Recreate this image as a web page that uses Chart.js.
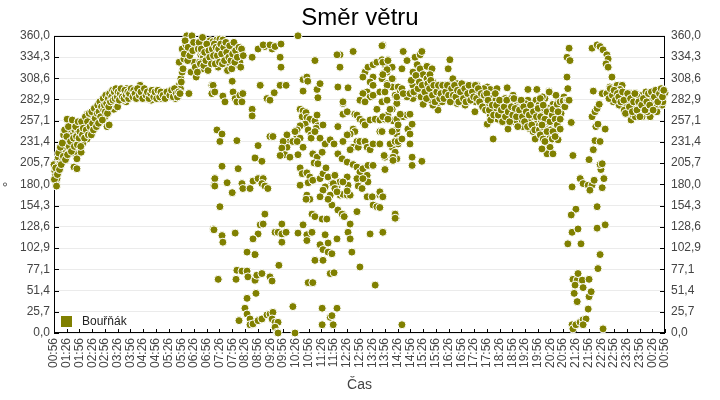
<!DOCTYPE html>
<html>
<head>
<meta charset="utf-8">
<script src="https://cdn.jsdelivr.net/npm/chart.js@4.4.1/dist/chart.umd.min.js"></script>
<style>
html, body { margin: 0; padding: 0; background: #fff; }
</style>
</head>
<body>
<canvas id="smerChart" width="720" height="400"></canvas>
<script>
// popisky casove osy (po 30 minutach od 00:56)
var casy = ['00:56','01:26','01:56','02:26','02:56','03:26','03:56','04:26','04:56','05:26','05:56','06:26',
    '06:56','07:26','07:56','08:26','08:56','09:26','09:56','10:26','10:56','11:26','11:56','12:26',
    '12:56','13:26','13:56','14:26','14:56','15:26','15:56','16:26','16:56','17:26','17:56','18:26',
    '18:56','19:26','19:56','20:26','20:56','21:26','21:56','22:26','22:56','23:26','23:56','00:26','00:56'];

// hodnoty na ose Y (stupne)
var stupne = [0, 25.714, 51.429, 77.143, 102.857, 128.571, 154.286, 180, 205.714, 231.429, 257.143, 282.857, 308.571, 334.286, 360];

// mereni: [minuty od 00:56, smer vetru ve stupnich]
var rano = [
    [5,183],[7,187],[0,204],[12,207],[7,195],[16,211],[19,216],[24,228],[28,235],[31,223],[35,232],[40,244],[31,259],[42,252],
    [47,223],[52,216],[47,201],[54,199],[54,211],[64,219],[66,232],[71,244],[64,247],[75,252],[78,235],[82,244],[87,259],[78,265],
    [94,256],[99,268],[101,271],[111,259],[118,271],[125,250],[130,252],[123,277],[134,276],[137,288],[141,271],[148,280],[158,284],
    [165,292],[170,280],[177,295],[189,292],[196,290],[203,300],[207,288],[219,284],[229,282],[236,290],[243,288],[252,284],[264,288],
    [276,290],[283,290],[290,295],[295,300],[299,308],[302,316],[295,328],[306,332],[302,344],[311,349],[313,360],[325,360],[318,341],
    [323,316],[318,290],[330,328],[335,310],[337,349],[346,337],[354,320],[361,332],[370,349],[372,300],[372,290],[377,179],[375,126],
    [2,196],[3,190],[9,200],[10,213],[14,205],[18,222],[21,210],[23,240],[26,218],[29,226],[33,244],[37,218],[38,238],[44,228],
    [45,240],[49,246],[50,232],[56,242],[58,228],[60,250],[62,238],[68,230],[70,254],[73,240],[80,248],[84,258],[86,242],[90,250],
    [92,264],[96,254],[104,262],[107,258],[113,266],[115,280],[120,262],[127,272],[132,284],[135,276],[143,280],[145,290],[150,274],
    [153,286],[160,293],[163,282],[168,290],[172,296],[181,288],[184,292],[192,286],[199,292],[211,290],[214,286],[222,284],[226,292],
    [233,287],[240,285],[247,290],[255,286],[259,292],[268,286],[271,293],[279,289],[286,284],[292,293],[298,296],
    [300,304],[304,320],[307,338],[309,354],[315,330],[316,346],[320,336],[327,342],[329,352],[333,322],[340,344],[343,328],
    [348,340],[352,334],[357,346],[364,340],[366,326],[368,354],
    [1,186],[4,200],[6,178],[8,192],[11,218],[13,198],[15,225],[17,204],[20,230],[22,214],[25,246],[27,210],[30,238],[32,216],
    [34,250],[36,226],[39,232],[41,220],[43,258],[46,236],[48,226],[51,250],[53,238],[55,228],[57,256],[59,236],[61,244],[63,226],
    [65,256],[67,240],[69,248],[72,236],[74,262],[76,246],[79,256],[81,240],[83,266],[85,250],[88,240],[89,268],[91,254],[93,246],
    [95,272],[97,260],[100,250],[102,266],[103,276],[105,254],[106,268],[108,280],[110,262],[112,274],[114,258],[116,284],[117,270],
    [119,276],[121,268],[122,288],[124,278],[126,266],[128,284],[129,274],[131,290],[133,280],[136,286],[138,294],[139,282],[142,292],
    [144,284],[146,296],[149,286],[151,292],[154,282],[156,290],[158,296],[161,286],[165,284],[167,294],[170,288],[174,292],[176,284],
    [178,290],[182,296],[186,286],[188,294],[191,290],[194,284],[197,296],[201,288],[205,292],[209,284],[213,296],[217,288],[220,292],
    [224,284],[228,290],[231,294],[235,286],[238,292],[242,284],[245,294],[249,286],[252,292],[257,288],[262,284],[266,292],[273,288],
    [277,294],[281,286],[284,296],[288,290],[291,286],[294,292],[297,290]
];

var dopoledne = [
    [344,353],[351,341],[349,328],[351,320],[361,337],[368,349],[375,353],[384,355],[391,356],[398,355],[379,341],[387,322],[403,337],
    [408,319],[410,328],[420,341],[422,332],[431,325],[434,341],[438,328],[443,337],[422,347],[415,344],[467,334],[481,344],[497,347],
    [514,344],[493,349],[509,349],[521,347],[535,350],[533,334],[535,322],[575,360],
    [338,316],[342,352],[345,326],[347,344],[350,358],[353,324],[355,340],[358,330],[360,350],[363,318],[365,342],[367,334],[371,326],
    [373,344],[376,336],[378,350],[380,326],[382,346],[385,336],[388,344],[390,328],[393,350],[395,338],[397,326],[400,346],[402,330],
    [405,352],[407,340],[409,318],[412,334],[414,348],[417,330],[419,320],[421,338],[424,352],[426,328],[428,342],[432,334],[436,346],
    [440,322],[442,344],[446,336],
    [375,300],[379,292],[420,305],[398,287],[403,280],[422,292],[427,284],[431,280],[438,288],[445,290],[443,280],[486,300],[502,284],
    [509,282],[519,291],[533,300],[547,300],
    [467,271],[467,263],[384,246],[396,241],[391,232],[431,233],[481,227],[509,238],[516,238],[474,212],[490,208],[396,202],[434,199],
    [379,187],[379,178],[408,182],[420,170],[443,181],[445,175],[462,175],[469,184],[481,187],[493,187],[490,181],[497,178],[504,175],
    [391,153],[497,144],[486,131],[493,132],[481,120],[469,114],[377,125],[396,118],[398,110],[427,121],[521,122],[528,122],[537,132],
    [537,120],[537,110],[547,122],[455,98],[474,95],[530,82],[431,76],[443,75],[455,75],[457,68],[474,64],[478,70],[490,72],[509,68],
    [514,63],[387,65],[429,65],[476,48],[455,42],[450,30],[455,23],[462,17],[462,10],[469,11],[481,15],[490,17],[502,22],[509,23],
    [516,25],[514,17],[521,13],[528,13],[521,7],[526,1],[528,0],[436,15],[563,32],[568,0]
];

var poledne = [
    [580,271],[587,269],[585,262],[594,267],[596,261],[603,259],[615,257],[620,264],[622,251],[592,253],[580,251],[599,246],[606,240],
    [573,246],[573,238],[580,236],[568,244],[556,232],[549,225],[549,240],[563,232],[573,232],[540,232],[537,224],[544,216],[533,215],
    [556,213],[575,216],[587,225],[606,236],[618,248],[610,217],[620,213],[613,206],[622,205],[632,219],[639,229],[651,234],[660,229],
    [669,250],[681,278],[681,265],[691,268],[693,297],[674,337],[674,322],[705,341],[615,330],[587,307],[596,310],[587,293],[620,295],
    [622,285],[627,302],[598,305],[634,252],[627,236],[615,244],
    [580,200],[585,193],[596,194],[603,189],[599,182],[580,179],[610,185],[627,187],[634,193],[641,200],[646,189],[655,181],[662,191],
    [667,177],[674,183],[639,177],[634,173],[596,167],[603,162],[594,162],[627,165],[651,167],[655,155],[674,167],[681,168],[691,167],
    [698,167],[669,149],[681,143],[608,144],[615,141],[632,138],[643,138],[587,131],[596,119],[608,122],[575,121],[596,112],[639,119],
    [646,109],[627,107],[634,101],[646,98],[655,96],[667,114],[693,122],[698,114],[702,98],[615,88],[634,88],[721,80],[599,61],[610,61],
    [651,72],[660,73],[757,58],[632,30],[667,30],[651,19],[655,21],[632,10],[658,10],[726,198],[728,199],[721,191],[717,183],[693,179],
    [691,172],[738,165],[750,165],[752,155],[761,153],[768,167],[775,165],[714,147],[745,120],[775,122],[804,144],[806,139],[698,132],
    [679,144],[684,141],
    [669,298],[681,280],[709,265],[714,264],[721,259],[728,256],[733,252],[745,258],[757,259],[768,258],[705,247],[709,244],[698,241],
    [691,240],[681,232],[714,232],[705,225],[698,222],[717,225],[721,232],[733,232],[738,225],[745,222],[752,229],[768,244],[780,213],
    [799,211],[797,225],[804,232],[808,241],[816,235],[669,217],[679,211],[691,207],[705,204],[714,201],[721,195],[728,199],[738,191],
    [740,183],[714,187],[717,178],[728,187],[726,175],[740,203],[752,203],[780,198],[691,189],[681,183],[658,181],[662,175],[667,171],
    [646,162],[733,316],[740,322],[752,325],[761,328],[773,331],[780,325],[787,331],[797,322],[785,316],[775,314],[752,310],[745,304],
    [752,300],[738,292],[728,290],[745,286],[721,282],[733,280],[752,288],[768,292],[773,308],[785,302],[797,298],[804,288],[808,278],
    [797,271],[787,264],[780,259],[773,280],[761,271],[799,308],[811,298],[799,257],[808,247],[811,229],[804,219],[808,211],[775,349],
    [667,337],[728,310],[816,292]
];

var odpoledne = [
    [773,348],[775,328],[787,330],[785,319],[775,313],[797,308],[785,300],[780,292],[785,282],[792,271],[775,262],[787,259],[808,259],
    [808,286],[811,252],[823,262],[832,264],[839,265],[816,265],[773,244],[768,229],[797,244],[792,229],[804,232],[811,232],[820,235],
    [834,247],[839,241],[844,253],[839,229],[778,215],[799,213],[799,209],[780,198],[844,213],[844,203],[867,208],[768,171],[775,165],
    [768,152],[804,144],[804,139],[775,122],[820,10],
    [823,341],[820,320],[832,330],[851,334],[863,337],[867,341],[856,325],[863,320],[846,316],[879,323],[891,320],[870,313],[879,308],
    [886,313],[893,304],[856,304],[846,300],[863,295],[879,295],[886,284],[870,277],[903,277],[905,270],[893,276],[846,284],[832,286],
    [820,296],[823,290],[839,290],[856,290],[910,296],[917,290],[926,292],[933,300],[938,304],[929,320],[933,331],[940,308],[950,302],
    [952,296],[945,290],[957,290],[950,278],[969,276],[964,292],[974,300],[980,295],[988,298],[997,300],[999,292],[992,288],[980,288],
    [1004,284],[1011,288],[1021,298],[1028,295],[1035,288],[1039,284],[1032,280],[1016,276],[992,268],[1009,280],[1021,271],[1028,264],
    [1021,253],[1035,235],[1044,268],[1046,259],[1051,271],[1058,268],[1056,277],[1068,297],[1063,284],[1070,274],[1080,280],[1082,288],
    [1091,277],[1094,270],[1075,264],[1068,258],[1070,247],[1082,256],[1098,262],[1105,268],[1115,270],[1117,282],[1117,295],[1105,250],
    [1122,247],[1129,244],[1134,235],[1127,259],[1138,258],[1146,268],[1153,270],[1162,258],[1150,244],[1157,240],[1164,232],[1162,219],
    [1169,223],[1138,295],[1157,284],[1167,293],[1146,276],[1176,277],[1186,268],[1176,253],[1181,241],[1174,234],[1188,280],[1044,296],
    [872,288],[876,300],[884,292],[889,282],[896,296],[899,288],[907,286],[913,294],[915,280],[921,298],[924,287],[931,284],[936,294],
    [943,282],[948,296],[955,286],[960,298],[962,282],[967,290],[972,286],[977,292],[985,284],[990,296],[994,280],[1001,290],[1006,278],
    [1013,296],[1018,284],[1024,278],[1030,288],[1037,272],[1041,282],[1048,276],[1053,262],[1060,280],[1065,268],[1072,262],[1077,284],
    [1085,270],[1088,258],[1096,282],[1100,272],[1103,258],[1110,278],[1112,264],[1119,256],[1124,272],[1131,262],[1136,282],[1140,250],
    [1143,276],[1148,258],[1151,286],[1155,264],[1160,248],[1165,272],[1171,256],[1178,266],[1183,288],[1190,262],
    [842,306],[848,292],[853,312],[858,296],[861,304],[865,286],[868,300],[874,292],[878,284],[881,302],[885,296],[888,306],[892,288],
    [895,300],[898,280],[902,292],[906,300],[909,284],[912,290],[916,300],[919,284],[923,292],[927,300],[930,288],[934,280],[937,296],
    [941,288],[944,300],[947,286],[951,294],[954,280],[958,292],[961,302],[965,284],[968,296],[971,280],[975,290],[978,300],[982,282],
    [986,292],[989,286],[993,300],[996,284],[1000,296],[1003,280],[1007,290],[1010,274],[1014,288],[1017,270],[1020,290],
    [1023,282],[1026,270],[1029,258],[1033,276],[1036,264],[1040,290],[1043,276],[1047,264],[1050,282],[1054,270],[1057,256],[1061,274],
    [1064,262],[1067,282],[1071,268],[1074,256],[1078,274],[1081,264],[1084,284],[1087,272],[1090,262],[1093,250],[1097,270],[1101,282],
    [1104,262],[1107,274],[1109,256],[1113,268],[1116,250],[1120,264],[1123,276],[1126,252],[1130,268],[1133,246],[1137,262],[1141,272],
    [1144,246],[1147,262],[1152,250],[1156,272],[1159,256],[1163,240],[1166,262],[1170,246],[1173,268],[1177,258],[1180,272],[1184,262],
    [1187,248],[1191,270],[1195,266],[1198,276],[1202,286]
];

var vecer = [
    [1146,284],[1153,276],[1162,268],[1157,259],[1150,252],[1146,240],[1153,235],[1162,244],[1169,256],[1174,264],[1176,271],[1186,277],
    [1193,280],[1200,281],[1204,274],[1209,282],[1167,292],[1181,259],[1188,268],[1186,252],[1193,247],[1176,244],[1174,235],[1169,225],
    [1162,217],[1176,217],[1188,234],[1181,238],[1157,232],[1150,223],[1193,259],[1211,282],
    [1214,345],[1209,334],[1216,330],[1209,310],[1211,296],[1214,282],[1219,255],[1223,215],[1221,177],[1230,150],[1219,143],[1221,122],
    [1235,126],[1211,108],[1242,108],[1223,65],[1233,64],[1235,72],[1245,64],[1228,58],[1247,55],[1226,48],[1233,38],[1221,10],[1223,5],
    [1230,10],[1240,13],[1247,16],[1254,17],[1247,10],[1259,29],[1261,44],[1266,50],[1261,65],[1282,78],[1287,95],[1294,5],
    [1240,187],[1247,181],[1259,179],[1268,179],[1263,173],[1273,185],[1280,153],[1280,127],[1299,131],[1292,176],[1296,187],[1289,198],
    [1287,204],[1292,205],[1261,210],[1271,222],[1275,233],[1287,232],[1277,250],[1299,247],[1282,253],[1268,262],[1275,268],[1280,272],
    [1285,277],[1292,290],[1271,293],[1268,345],[1280,349],[1287,347],[1294,343],[1303,337],[1306,332],[1301,326],[1306,322],[1315,310],
    [1310,298],[1317,295],[1327,300],[1339,300],[1334,295],[1313,284],[1322,286],[1329,284],[1341,286],[1353,280],[1348,274],[1355,268],
    [1360,258],[1365,264],[1367,271],[1372,277],[1377,284],[1372,290],[1379,268],[1388,271],[1386,262],[1400,274],[1405,262],[1391,282],
    [1405,288],[1414,292],[1421,288],[1430,292],[1438,290],[1440,291],[1426,282],[1433,276],[1419,274],[1407,280],[1421,268],[1386,288],
    [1318,280],[1325,292],[1332,276],[1337,288],[1344,270],[1350,282],[1358,290],[1362,276],[1370,262],[1375,286],[1383,280],[1395,292],
    [1398,268],[1410,284],[1416,276],[1424,294],[1428,286],[1435,280],
    [1303,290],[1308,284],[1311,296],[1316,288],[1320,294],[1323,282],[1328,290],[1331,286],[1336,280],[1340,292],[1343,282],[1347,266],
    [1352,290],[1356,274],[1359,284],[1363,268],[1366,280],[1369,290],[1374,270],[1378,280],[1381,262],[1385,276],[1389,284],[1393,270],
    [1397,280],[1401,290],[1404,276],[1408,292],[1412,270],[1415,286],[1418,294],[1423,280],[1427,290],[1431,296],[1434,286],[1437,294]
];

var mereni = rano.concat(dopoledne, poledne, odpoledne, vecer);

function popisStupne(v) {
    return v.toFixed(1).replace('.', ',');
}

// ramecek grafu, vnitrni znacky a legenda uvnitr plochy
var ramecek = {
    id: 'ramecek',
    beforeDatasetsDraw: function(chart) {
        var ctx = chart.ctx, a = chart.chartArea;
        var sx = chart.scales.x, sy = chart.scales.y;
        ctx.save();
        ctx.strokeStyle = '#000';
        ctx.lineWidth = 1;
        ctx.beginPath();
        sx.ticks.forEach(function(t) {
            var px = Math.round(sx.getPixelForValue(t.value)) + 0.5;
            ctx.moveTo(px, a.bottom);
            ctx.lineTo(px, a.bottom - 4);
        });
        sy.ticks.forEach(function(t) {
            var py = Math.round(sy.getPixelForValue(t.value)) + 0.5;
            ctx.moveTo(a.left, py);
            ctx.lineTo(a.left + 5, py);
            ctx.moveTo(a.right, py);
            ctx.lineTo(a.right - 5, py);
        });
        ctx.stroke();
        ctx.strokeRect(Math.round(a.left) + 0.5, Math.round(a.top) + 0.5,
            Math.round(a.right - a.left) - 1, Math.round(a.bottom - a.top) - 1);
        ctx.restore();
    },
    afterDatasetsDraw: function(chart) {
        var ctx = chart.ctx, a = chart.chartArea;
        var ds = chart.data.datasets[0];
        ctx.save();
        ctx.fillStyle = ds.backgroundColor;
        ctx.fillRect(a.left + 7, a.bottom - 17, 11, 11);
        ctx.fillStyle = '#222';
        ctx.font = '12px "Liberation Sans", Arial, sans-serif';
        ctx.textBaseline = 'middle';
        ctx.fillText(ds.label, a.left + 28, a.bottom - 11);
        ctx.restore();
    }
};

Chart.defaults.font.family = '"Liberation Sans", Arial, sans-serif';
Chart.defaults.font.size = 12;
Chart.defaults.color = '#444';

var ctx = document.getElementById('smerChart').getContext('2d');
var smerChart = new Chart(ctx, {
    type: 'scatter',
    data: {
        datasets: [{
            label: 'Bouřňák',
            data: mereni.map(function(m) { return { x: m[0], y: m[1] }; }),
            backgroundColor: '#808000',
            borderColor: '#ffffff',
            borderWidth: 1,
            pointRadius: 4,
            pointHoverRadius: 4,
            clip: 6
        }]
    },
    options: {
        responsive: false,
        animation: false,
        events: [],
        layout: { padding: 0 },
        plugins: {
            legend: { display: false },
            tooltip: { enabled: false },
            title: {
                display: true,
                text: 'Směr větru',
                color: '#000',
                font: { size: 24, weight: 'normal' },
                padding: { top: 4, bottom: 3 }
            }
        },
        scales: {
            x: {
                type: 'linear',
                min: 0,
                max: 1440,
                grid: { display: false, drawTicks: false },
                border: { display: false },
                ticks: {
                    stepSize: 30,
                    autoSkip: false,
                    maxRotation: 90,
                    minRotation: 90,
                    padding: 5,
                    callback: function(v, i) { return casy[i]; }
                },
                title: {
                    display: true,
                    text: 'Čas',
                    font: { size: 14 },
                    padding: { top: 4, bottom: 6 }
                },
                afterFit: function(s) { s.height = 67; }
            },
            y: {
                position: 'left',
                min: 0,
                max: 360,
                afterBuildTicks: function(s) { s.ticks = stupne.map(function(v) { return { value: v }; }); },
                grid: { color: '#ebebeb', drawTicks: false },
                border: { display: false },
                ticks: { padding: 4, callback: popisStupne },
                title: {
                    display: true,
                    text: '°',
                    font: { size: 14 },
                    padding: { top: 1, bottom: 0 }
                },
                afterFit: function(s) { s.width = 54; }
            },
            y2: {
                position: 'right',
                min: 0,
                max: 360,
                afterBuildTicks: function(s) { s.ticks = stupne.map(function(v) { return { value: v }; }); },
                grid: { drawOnChartArea: false, drawTicks: false },
                border: { display: false },
                ticks: { padding: 6, callback: popisStupne },
                afterFit: function(s) { s.width = 55; }
            }
        }
    },
    plugins: [ramecek]
});
</script>
</body>
</html>
